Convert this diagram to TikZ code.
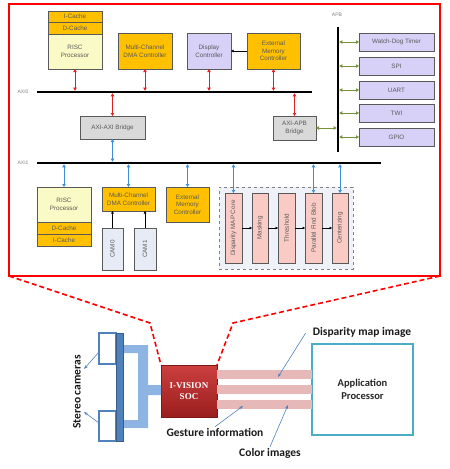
\documentclass[tikz,border=0pt]{standalone}
\usepackage{fontspec}
\setmainfont{Liberation Sans}
\newfontfamily\calib{Carlito}
\newfontfamily\serifb{Liberation Serif}
\usetikzlibrary{arrows.meta,calc}

\definecolor{orng}{HTML}{FFC000}
\definecolor{ylw}{HTML}{FAFAC6}
\definecolor{lav}{HTML}{D7D0F7}
\definecolor{gry}{HTML}{D9D9D9}
\definecolor{pnk}{HTML}{F9CBC4}
\definecolor{camc}{HTML}{E6EBF5}
\definecolor{grpc}{HTML}{EEF2F8}
\definecolor{bord}{HTML}{595959}
\definecolor{txtc}{HTML}{5A5A5A}
\definecolor{redar}{HTML}{E02020}
\definecolor{bluar}{HTML}{3B8ED6}
\definecolor{grnar}{HTML}{77933C}
\definecolor{pipec}{HTML}{8DB4E2}
\definecolor{camb}{HTML}{4F81BD}
\definecolor{camd}{HTML}{385D8A}
\definecolor{socT}{HTML}{CC3F3F}
\definecolor{socB}{HTML}{9A1E1E}
\definecolor{barc}{HTML}{E6B9B8}
\definecolor{appb}{HTML}{4BACC6}

\tikzset{
  blk/.style={draw=bord, line width=0.7pt, inner sep=0pt, outer sep=0pt, anchor=north west,
    align=center, font=\fontsize{6.3}{7.6}\selectfont, text=txtc},
  rottxt/.style={rotate=90, inner sep=0pt, font=\fontsize{6.3}{7.6}\selectfont, text=txtc},
  busline/.style={line width=2.6pt, black},
  buslbl/.style={font=\fontsize{5}{6}\selectfont, text=gray, inner sep=0pt},
  rarr/.style={redar, line width=0.7pt, shorten <=1.3pt,
    {Triangle[length=3pt,width=3.4pt]}-{Triangle[length=3pt,width=3.4pt]}},
  barr/.style={bluar, line width=0.7pt, shorten <=1.3pt,
    {Triangle[length=3pt,width=3.4pt]}-{Triangle[length=3pt,width=3.4pt]}},
  garr/.style={grnar, line width=0.7pt, shorten <=1.3pt,
    {Triangle[length=3pt,width=3.4pt]}-{Triangle[length=3pt,width=3.4pt]}},
  karr/.style={black, line width=0.5pt, -{Triangle[length=2.5pt,width=2.6pt]}},
  thinarr/.style={camb, line width=0.6pt, -{Stealth[length=4pt,width=3pt]}},
  biglbl/.style={font=\calib\bfseries\fontsize{11.5}{13}\selectfont, text=black!90, inner sep=0pt},
}

\begin{document}
\begin{tikzpicture}[x=1pt,y=1pt]
\useasboundingbox (0,0) rectangle (450,-469);

% ---------- frame ----------
\node[draw=red, line width=1.6pt, minimum width=431pt, minimum height=272pt,
      anchor=north west, inner sep=0pt, outer sep=0pt] (frame) at (9,-4) {};

% ---------- buses ----------
\coordinate (axi0a) at (37,-92);  \coordinate (axi0b) at (312,-92);
\coordinate (axi1a) at (37,-163); \coordinate (axi1b) at (381,-163);
\coordinate (apba) at (338,-27);  \coordinate (apbb) at (338,-152);
\draw[busline] (axi0a) -- (axi0b);
\draw[busline] (axi1a) -- (axi1b);
\draw[busline] (apba) -- (apbb);
\node[buslbl] (l0) at (23,-92) {AXI0};
\node[buslbl] (l1) at (23,-163) {AXI1};
\node[buslbl] (l2) at (337,-15) {APB};

% ---------- upper blocks ----------
\node[blk, fill=orng, minimum width=54pt, minimum height=11pt] (icache0) at (48,-11) {I-Cache};
\node[blk, fill=orng, minimum width=54pt, minimum height=12pt] (dcache0) at (48,-22) {D-Cache};
\node[blk, fill=ylw, minimum width=54pt, minimum height=35pt] (risc0) at (48,-34) {RISC\\Processor};
\node[blk, fill=orng, minimum width=54pt, minimum height=36pt] (dma0) at (118,-33) {Multi-Channel\\DMA Controller};
\node[blk, fill=lav, minimum width=44pt, minimum height=36pt] (disp) at (187,-33) {Display\\Controller};
\node[blk, fill=orng, minimum width=53pt, minimum height=36pt] (emc0) at (247,-33) {External\\Memory\\Controller};

\node[blk, fill=lav, minimum width=75pt, minimum height=18pt] (wdt) at (359,-33) {Watch-Dog Timer};
\node[blk, fill=lav, minimum width=75pt, minimum height=18pt] (spi) at (359,-57) {SPI};
\node[blk, fill=lav, minimum width=75pt, minimum height=18pt] (uart) at (359,-81) {UART};
\node[blk, fill=lav, minimum width=75pt, minimum height=18pt] (twi) at (359,-104) {TWI};
\node[blk, fill=lav, minimum width=75pt, minimum height=18pt] (gpio) at (359,-128) {GPIO};

\node[blk, fill=gry, minimum width=65pt, minimum height=23pt] (axiaxi) at (80,-116) {AXI-AXI Bridge};
\node[blk, fill=gry, minimum width=43pt, minimum height=24pt] (axiapb) at (273,-116) {AXI-APB\\Bridge};

% ---------- lower blocks ----------
\node[blk, fill=ylw, minimum width=54pt, minimum height=35pt] (risc1) at (37,-187) {RISC\\Processor};
\node[blk, fill=orng, minimum width=54pt, minimum height=12pt] (dcache1) at (37,-222) {D-Cache};
\node[blk, fill=orng, minimum width=54pt, minimum height=12pt] (icache1) at (37,-234) {I-Cache};
\node[blk, fill=orng, minimum width=53pt, minimum height=24pt] (dma1) at (102,-187) {Multi-Channel\\DMA Controller};
\node[blk, fill=camc, minimum width=21pt, minimum height=42pt] (cam0) at (102,-228) {};
\node[rottxt] (cam0t) at (cam0.center) {CAM0};
\node[blk, fill=camc, minimum width=22pt, minimum height=42pt] (cam1) at (134,-228) {};
\node[rottxt] (cam1t) at (cam1.center) {CAM1};
\node[blk, fill=orng, minimum width=43pt, minimum height=35pt] (emc1) at (166,-187) {External\\Memory\\Controller};

\node[draw=gray, dashed, fill=grpc, line width=0.8pt, anchor=north west, inner sep=0pt,
      minimum width=134pt, minimum height=82pt] (grp) at (219,-187) {};
\node[blk, fill=pnk, minimum width=17pt, minimum height=70pt] (dmc) at (225,-193) {};
\node[rottxt] (dmct) at (dmc.center) {Disparity MAP Core};
\node[blk, fill=pnk, minimum width=16pt, minimum height=70pt] (mask) at (252,-193) {};
\node[rottxt] (maskt) at (mask.center) {Masking};
\node[blk, fill=pnk, minimum width=17pt, minimum height=70pt] (thr) at (278,-193) {};
\node[rottxt] (thrt) at (thr.center) {Threshold};
\node[blk, fill=pnk, minimum width=17pt, minimum height=70pt] (pfb) at (305,-193) {};
\node[rottxt] (pfbt) at (pfb.center) {Parallel Find Blob};
\node[blk, fill=pnk, minimum width=16pt, minimum height=70pt] (cen) at (332,-193) {};
\node[rottxt] (cent) at (cen.center) {Centerizing};

% ---------- connectors ----------
\draw[rarr] (risc0.south |- axi0a) -- (risc0.south);
\draw[rarr] (dma0.south |- axi0a) -- (dma0.south);
\draw[rarr] (disp.south |- axi0a) -- (disp.south);
\draw[rarr] (emc0.south |- axi0a) -- (emc0.south);
\draw[rarr] (axiaxi.north |- axi0a) -- (axiaxi.north);
\draw[rarr] (axiapb.north |- axi0a) -- (axiapb.north);
\draw[karr] (emc0.west) -- (disp.east);

\foreach \n in {wdt,spi,uart,twi,gpio} \draw[garr] (\n.west -| apba) -- (\n.west);
\draw[garr] (axiapb.east -| apba) -- (axiapb.east);

\draw[barr] (axiaxi.south |- axi1a) -- (axiaxi.south);
\draw[barr] (risc1.north |- axi1a) -- (risc1.north);
\draw[barr] (dma1.north |- axi1a) -- (dma1.north);
\draw[barr] (emc1.north |- axi1a) -- (emc1.north);
\draw[barr] (dmc.north |- axi1a) -- (dmc.north);
\draw[barr] (pfb.north |- axi1a) -- (pfb.north);
\draw[barr] (cen.north |- axi1a) -- (cen.north);

\draw[karr] (cam0.north) -- (cam0.north |- dma1.south);
\draw[karr] (cam1.north) -- (cam1.north |- dma1.south);
\draw[karr] (dmc.east) -- (mask.west);
\draw[karr] (mask.east) -- (thr.west);
\draw[karr] (thr.east) -- (pfb.west);
\draw[karr] (pfb.east) -- (cen.west);

% ---------- lower system ----------
\node[anchor=north west, minimum width=56pt, minimum height=52pt, inner sep=0pt, outer sep=0pt,
      top color=socT, bottom color=socB, draw=socB!80!black, line width=0.4pt, text=white,
      font=\serifb\bfseries\fontsize{9}{11}\selectfont, align=center] (soc) at (161,-365) {I-VISION\\SOC};
\node[anchor=north west, minimum width=101pt, minimum height=91pt, inner sep=0pt, outer sep=0pt,
      draw=appb, line width=1.8pt, align=center, text=black!85,
      font=\calib\bfseries\fontsize{10.5}{12.5}\selectfont] (app) at (312,-344) {Application\\Processor};

\fill[barc] (217,-370) rectangle (312,-379);
\fill[barc] (217,-385) rectangle (312,-394);
\fill[barc] (217,-400) rectangle (312,-409);

% cameras
\fill[pipec] (123,-345) -- (148,-345) -- (148,-385) -- (161,-385) -- (161,-395) -- (148,-395)
   -- (148,-428) -- (123,-428) -- (123,-420) -- (138,-420) -- (138,-353) -- (123,-353) -- cycle;
\node[anchor=north west, minimum width=17pt, minimum height=31pt, inner sep=0pt, outer sep=0pt,
      draw=camb, line width=1.1pt, fill=white] (camU) at (99,-333) {};
\node[anchor=north west, minimum width=17pt, minimum height=30pt, inner sep=0pt, outer sep=0pt,
      draw=camb, line width=1.1pt, fill=white] (camL) at (99,-411) {};
\filldraw[fill=camb, draw=camd, line width=0.6pt] (116,-333) rectangle (123,-441);

\node[biglbl, rotate=90] (sc) at (77,-392) {Stereo cameras};
\coordinate (scA) at (84,-369);
\coordinate (scB) at (84,-412);
\draw[thinarr] ([yshift=12pt]camU.south west) -- (scA);
\draw[thinarr] ([yshift=-12pt]camL.north west) -- (scB);

% labels
\node[biglbl] (dmi) at (362,-332) {Disparity map image};
\node[biglbl] (gst) at (215,-432) {Gesture information};
\node[biglbl] (col) at (270,-453) {Color images};
\coordinate (dmiT) at (278,-377);
\coordinate (gstT) at (243,-406);
\coordinate (colT) at (288,-405);
\draw[thinarr] ([xshift=-7pt,yshift=-1pt]dmi.west) -- (dmiT);
\draw[thinarr] ([yshift=1pt]gst.north) -- (gstT);
\draw[thinarr] ([yshift=1pt]col.north) -- (colT);

% dashed zoom lines
\coordinate (bendL) at (150,-323);
\coordinate (bendR) at (233,-323);
\draw[red, line width=1.6pt, dash pattern=on 5pt off 3pt] (frame.south west) -- (bendL) -- (soc.north west);
\draw[red, line width=1.6pt, dash pattern=on 5pt off 3pt] (frame.south east) -- (bendR) -- (soc.north east);
\end{tikzpicture}
\end{document}
